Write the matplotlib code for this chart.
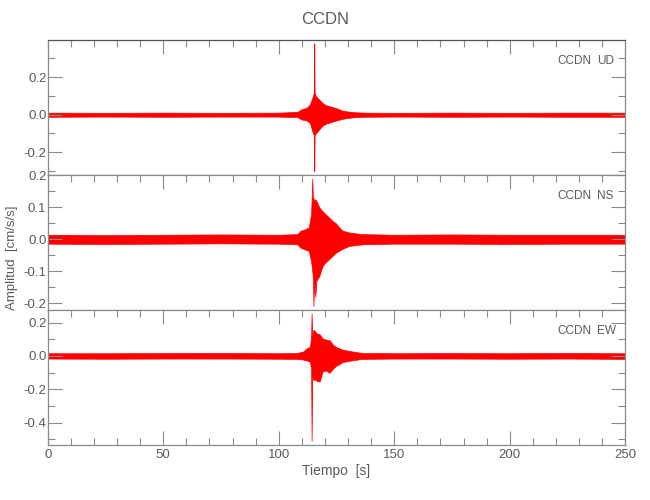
import matplotlib
matplotlib.use("Agg")
import matplotlib.pyplot as plt
from matplotlib.ticker import MultipleLocator, FuncFormatter

# envelope of each trace (time in s, amplitude in cm/s/s)
t_ud = [0, 25, 50, 75, 100, 108, 110, 112, 113.5, 114.8, 115.2, 115.35, 115.5, 116.0,
        117.5, 119, 120.5, 122, 123.5, 125.5, 127.5, 130, 133, 137, 150, 175, 200, 225, 250]
up_ud = [0.011, 0.010, 0.011, 0.010, 0.011, 0.015, 0.03, 0.036, 0.055, 0.10, 0.12, 0.38, 0.12, 0.10,
         0.08, 0.062, 0.05, 0.045, 0.04, 0.032, 0.022, 0.017, 0.013, 0.011, 0.010, 0.011, 0.010, 0.011, 0.011]
lo_ud = [-0.011, -0.010, -0.011, -0.010, -0.010, -0.013, -0.026, -0.03, -0.045, -0.10, -0.11, -0.30, -0.11, -0.10,
         -0.078, -0.058, -0.047, -0.042, -0.036, -0.029, -0.022, -0.017, -0.013, -0.011, -0.010, -0.011, -0.010, -0.011, -0.011]

t_ns = [0, 25, 50, 75, 100, 108, 109.5, 111, 113, 114.0, 114.5, 114.8, 115.0, 115.3, 115.8, 116.3,
        117.5, 118.9, 120.3, 121.8, 123.3, 124.7, 126.2, 127.6, 130.5, 136, 150, 175, 200, 225, 250]
up_ns = [0.014, 0.013, 0.014, 0.015, 0.014, 0.016, 0.027, 0.03, 0.037, 0.08, 0.19, 0.12, 0.13, 0.12, 0.125, 0.12,
         0.10, 0.088, 0.078, 0.068, 0.057, 0.05, 0.037, 0.027, 0.021, 0.016, 0.014, 0.015, 0.014, 0.014, 0.014]
lo_ns = [-0.014, -0.015, -0.014, -0.013, -0.014, -0.016, -0.027, -0.031, -0.037, -0.07, -0.10, -0.13, -0.21, -0.13, -0.18, -0.13,
         -0.116, -0.085, -0.072, -0.062, -0.052, -0.042, -0.036, -0.03, -0.021, -0.016, -0.014, -0.014, -0.015, -0.014, -0.014]

t_ew = [0, 25, 50, 75, 100, 108, 110.6, 112, 113.5, 114.0, 114.2, 114.5, 114.9, 115.6, 116.3, 117.7,
        119.0, 120.5, 122.0, 123.4, 124.8, 127.7, 132.1, 136, 150, 175, 200, 225, 250]
up_ew = [0.016, 0.016, 0.017, 0.018, 0.016, 0.018, 0.027, 0.045, 0.055, 0.12, 0.256, 0.12, 0.156, 0.15, 0.136, 0.13,
         0.104, 0.098, 0.094, 0.068, 0.053, 0.037, 0.026, 0.018, 0.016, 0.017, 0.016, 0.018, 0.016]
lo_ew = [-0.016, -0.017, -0.016, -0.016, -0.017, -0.018, -0.022, -0.027, -0.036, -0.08, -0.51, -0.12, -0.144, -0.14, -0.15, -0.154,
         -0.092, -0.088, -0.102, -0.077, -0.06, -0.037, -0.026, -0.018, -0.016, -0.016, -0.017, -0.016, -0.018]

station = "CCDN"
components = ["UD", "NS", "EW"]
ylims = [(-0.322, 0.396), (-0.222, 0.2005), (-0.535, 0.275)]
y_major = [0.2, 0.1, 0.2]
y_minor = [0.1, 0.05, 0.1]

plt.rcParams['font.family'] = ['Liberation Sans', 'DejaVu Sans']
gray_txt = '#5a5a5a'
gray_ax = '#8a8a8a'
red = '#ff0000'

fig = plt.figure(figsize=(6.5, 5), dpi=100, facecolor='white')
gs = fig.add_gridspec(3, 1, left=0.0735, right=0.962, bottom=0.11, top=0.9194, hspace=0)


def fmt(v, pos):
    if abs(v) < 1e-9:
        return '0.0'
    return '%.1f' % v


traces = [(t_ud, up_ud, lo_ud), (t_ns, up_ns, lo_ns), (t_ew, up_ew, lo_ew)]
axes = []
for i, (t, up, lo) in enumerate(traces):
    ax = fig.add_subplot(gs[i])
    axes.append(ax)
    ax.fill_between(t, lo, up, color=red, edgecolor=red, linewidth=0.5)
    ax.set_xlim(0, 250)
    ax.set_ylim(*ylims[i])
    ax.xaxis.set_major_locator(MultipleLocator(50))
    ax.xaxis.set_minor_locator(MultipleLocator(10))
    ax.yaxis.set_major_locator(MultipleLocator(y_major[i]))
    ax.yaxis.set_minor_locator(MultipleLocator(y_minor[i]))
    last = (i == 2)
    ax.tick_params(which='both', direction='in', top=True, bottom=last, right=True,
                   labelbottom=last, color=gray_ax, labelcolor=gray_txt, labelsize=9.5, width=0.8)
    ax.tick_params(which='major', length=10)
    ax.tick_params(which='minor', length=5)
    ax.tick_params(axis='y', pad=1)
    ax.tick_params(axis='x', pad=3)
    ax.yaxis.set_major_formatter(FuncFormatter(fmt))
    for s in ax.spines.values():
        s.set_color(gray_ax)
        s.set_linewidth(0.9)
    ax.text(0.883, 0.845, station, transform=ax.transAxes, fontsize=8.5, color=gray_txt,
            ha='left', va='center')
    ax.text(0.951, 0.845, components[i], transform=ax.transAxes, fontsize=8.5, color=gray_txt,
            ha='left', va='center')

axes[0].spines['top'].set_color('#555555')
axes[2].set_xlabel('Tiempo  [s]', fontsize=10, color=gray_txt, labelpad=2)
fig.text(0.018, 0.485, 'Amplitud  [cm/s/s]', rotation=90, fontsize=9.5, color=gray_txt,
         ha='center', va='center')
fig.text(0.5, 0.962, station, fontsize=12, color=gray_txt, ha='center', va='center')

fig.savefig('out.png', dpi=100, facecolor='white')
